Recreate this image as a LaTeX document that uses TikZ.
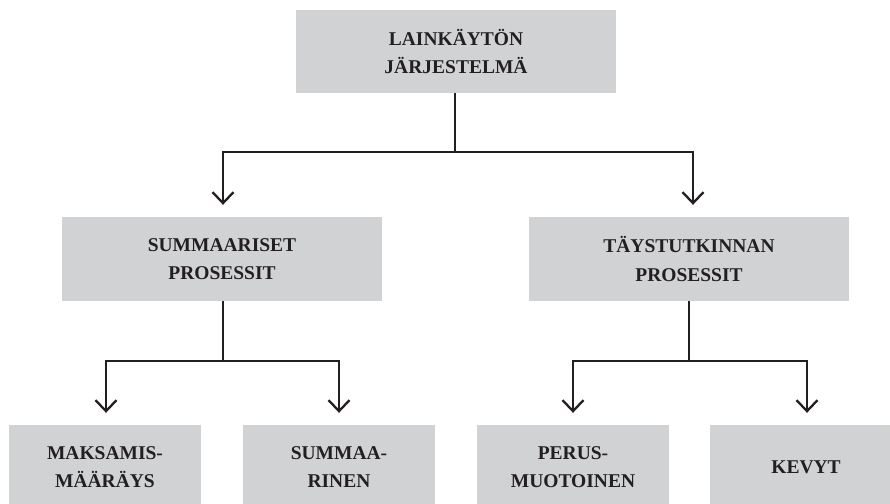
\documentclass[tikz,border=0pt]{standalone}
\usepackage{fontspec}
\setmainfont{Liberation Serif}
\usetikzlibrary{arrows.meta}
\definecolor{boxgray}{HTML}{D1D2D4}
\definecolor{ink}{HTML}{231F20}
\begin{document}
\begin{tikzpicture}[x=1pt,y=-1pt,
  box/.style={rectangle, fill=boxgray, inner sep=0pt, align=center,
    text=ink, font=\fontsize{19.5}{28.5}\selectfont\bfseries},
  bigbox/.style={box, minimum width=320pt, minimum height=84pt},
  smallbox/.style={box, minimum width=192pt, minimum height=84pt},
  conn/.style={draw=ink, line width=2.3pt},
  arr/.style={conn, -{Straight Barb[length=11pt,width=21pt]}, shorten >=12pt}
]
\useasboundingbox (0,0) rectangle (890,503);
\clip (0,0) rectangle (890,503);

\node[bigbox, minimum height=83pt] (top) at (456,51.5) {LAINKÄYTÖN\\JÄRJESTELMÄ};
\node[bigbox] (sum) at (222,259) {SUMMAARISET\\PROSESSIT};
\node[bigbox] (tay) at (689,259) {TÄYSTUTKINNAN\\PROSESSIT};
\node[smallbox] (mak) at (105,467) {MAKSAMIS-\\MÄÄRÄYS};
\node[smallbox] (sumr) at (339,467) {SUMMAA-\\RINEN};
\node[smallbox] (per) at (573,467) {PERUS-\\MUOTOINEN};
\node[smallbox] (kev) at (806,467) {KEVYT};

\coordinate (j1) at (455,152);
\coordinate (j2) at (223,361);
\coordinate (j3) at (689,361);

\draw[conn] (top.south -| j1) -- (j1);
\draw[arr] (j1) -| ([xshift=1pt]sum.north);
\draw[arr] (j1) -| ([xshift=4pt]tay.north);

\draw[conn] (sum.south -| j2) -- (j2);
\draw[arr] (j2) -| ([xshift=1pt]mak.north);
\draw[arr] (j2) -| (sumr.north);

\draw[conn] (tay.south) -- (j3);
\draw[arr] (j3) -| (per.north);
\draw[arr] (j3) -| ([xshift=1pt]kev.north);
\end{tikzpicture}
\end{document}
